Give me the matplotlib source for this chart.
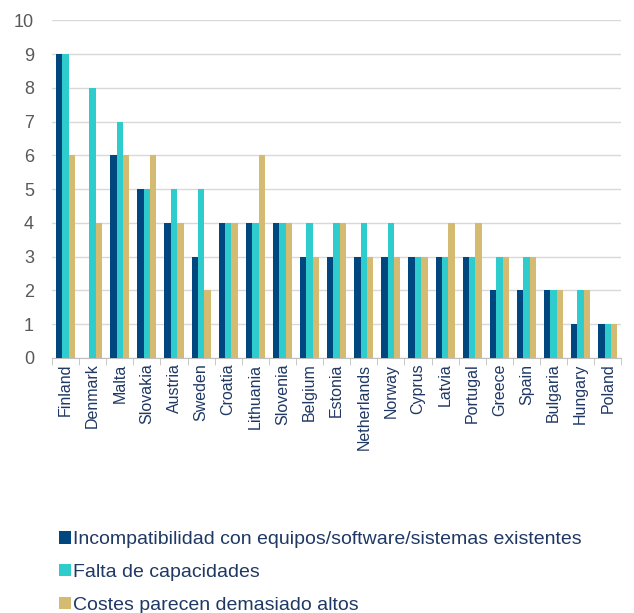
import matplotlib
matplotlib.use("Agg")
import matplotlib.pyplot as plt
from matplotlib.patches import Patch
import numpy as np

plt.rcParams['font.family'] = ['Liberation Sans', 'DejaVu Sans']

countries = ["Finland", "Denmark", "Malta", "Slovakia", "Austria", "Sweden", "Croatia",
             "Lithuania", "Slovenia", "Belgium", "Estonia", "Netherlands", "Norway",
             "Cyprus", "Latvia", "Portugal", "Greece", "Spain", "Bulgaria", "Hungary", "Poland"]
incompat = [9, 0, 6, 5, 4, 3, 4, 4, 4, 3, 3, 3, 3, 3, 3, 3, 2, 2, 2, 1, 1]
falta = [9, 8, 7, 5, 5, 5, 4, 4, 4, 4, 4, 4, 4, 3, 3, 3, 3, 3, 2, 2, 1]
costes = [6, 4, 6, 6, 4, 2, 4, 6, 4, 3, 4, 3, 3, 3, 4, 4, 3, 3, 2, 2, 1]
series_labels = ["Incompatibilidad con equipos/software/sistemas existentes",
                 "Falta de capacidades",
                 "Costes parecen demasiado altos"]
colors = ["#00467F", "#2ECCCC", "#D5BB72"]

fig = plt.figure(figsize=(6.34, 6.13), dpi=100)
ax = fig.add_axes([0.082, 0.416, 0.898, 0.551])

x = np.arange(len(countries))
w = 0.235
for i, (vals, c, lab) in enumerate(zip([incompat, falta, costes], colors, series_labels)):
    ax.bar(x + (i - 1) * w, vals, width=w, color=c, label=lab, zorder=3)

ax.set_xlim(-0.5, len(countries) - 0.5)
ax.set_ylim(0, 10)
ax.set_yticks(range(0, 11))
ax.yaxis.grid(True, color="#D9D9D9", linewidth=1.0, zorder=0)
ax.set_axisbelow(True)
for s in ["top", "right", "left"]:
    ax.spines[s].set_visible(False)
ax.spines["bottom"].set_color("#BFBFBF")
ax.tick_params(axis="y", length=0, labelsize=13, labelcolor="#595959", pad=13)
ax.set_xticks(x)
ax.set_xticklabels(countries, rotation=90, fontsize=11.5, color="#1F3864")
ax.tick_params(axis="x", length=0, pad=4)
ax.set_xticks(np.arange(-0.5, len(countries), 1), minor=True)
ax.tick_params(axis="x", which="minor", length=5, color="#BFBFBF")

handles = [Patch(facecolor=c, edgecolor="none") for c in colors]
fig.legend(handles, series_labels, loc="upper left", bbox_to_anchor=(0.093, 0.133),
           frameon=False, fontsize=14, handlelength=0.6, handleheight=0.6,
           handletextpad=0.1, labelspacing=0.8, labelcolor="#1F3864",
           borderaxespad=0, borderpad=0)

fig.savefig("out.png", dpi=100)
